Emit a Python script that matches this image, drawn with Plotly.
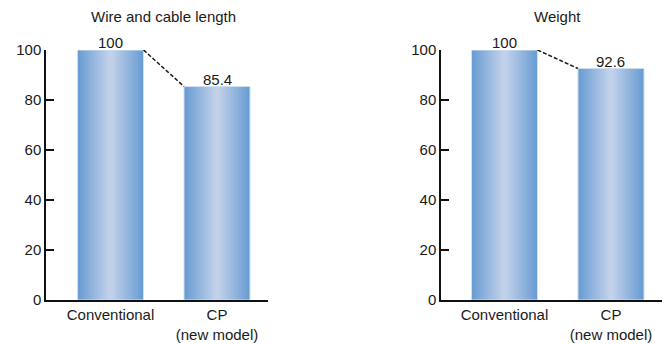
import plotly.graph_objects as go

# Chart data
categories = ["Conventional", "CP<br>(new model)"]
wire_length = [100, 85.4]
weight = [100, 92.6]
panel_titles = ["Wire and cable length", "Weight"]
y_ticks = [0, 20, 40, 60, 80, 100]

FONT = "Liberation Sans, Arial, sans-serif"
TEXT = "#1a1a1a"
EDGE_RGB = (102, 155, 210)
CENTER_RGB = (198, 211, 235)
BAR_W = 0.62
N_STRIPES = 24

positions = list(range(len(categories)))


def stripe_color(t):
    d = abs(t - 0.5) * 2
    r, g, b = (c + (e - c) * d for c, e in zip(CENTER_RGB, EDGE_RGB))
    return f"rgb({r:.0f},{g:.0f},{b:.0f})"


fig = go.Figure()


def add_panel(values, xa, ya):
    step = BAR_W / N_STRIPES
    # vertical stripes build a horizontal shading across each bar
    for i in range(N_STRIPES):
        t = (i + 0.5) / N_STRIPES
        w = step * (1.6 if i < N_STRIPES - 1 else 1.0)
        fig.add_trace(go.Bar(
            x=positions, y=values, xaxis=xa, yaxis=ya,
            width=w, offset=-BAR_W / 2 + i * step,
            marker=dict(color=stripe_color(t), line=dict(width=0)),
            showlegend=False, hoverinfo="skip",
        ))
    # light rim around each bar
    fig.add_trace(go.Bar(
        x=positions, y=values, xaxis=xa, yaxis=ya,
        width=BAR_W, offset=-BAR_W / 2,
        marker=dict(color="rgba(0,0,0,0)", line=dict(width=1, color="#cfe1f3")),
        showlegend=False, hoverinfo="skip",
    ))
    # dashed connector between bar tops
    fig.add_trace(go.Scatter(
        x=[positions[0] + BAR_W / 2, positions[1] - BAR_W / 2], y=values,
        xaxis=xa, yaxis=ya, mode="lines",
        line=dict(color=TEXT, width=1.5, dash="4px,2px"),
        showlegend=False, hoverinfo="skip",
    ))


add_panel(wire_length, "x", "y")
add_panel(weight, "x2", "y2")

ax_common = dict(
    type="linear", showgrid=False, zeroline=False, showline=True,
    linecolor="#111111", linewidth=2, ticks="", fixedrange=True,
    automargin=False, tickvals=positions, ticktext=categories,
    tickfont=dict(family=FONT, size=15, color=TEXT),
)
ay_common = dict(
    range=[0, 100], showgrid=False, zeroline=False, showline=True,
    linecolor="#111111", linewidth=1.5, ticks="inside", ticklen=8,
    tickcolor="#111111", tickwidth=1.5, tickvals=y_ticks, automargin=False,
    tickfont=dict(family=FONT, size=15, color=TEXT), fixedrange=True,
)

fig.update_layout(
    template="none",
    width=667, height=344,
    margin=dict(l=0, r=0, t=0, b=0, pad=0),
    paper_bgcolor="white", plot_bgcolor="white",
    barmode="overlay",
    xaxis=dict(domain=[46 / 667, 268 / 667], range=[-0.606, 1.479], anchor="y", **ax_common),
    yaxis=dict(domain=[44 / 344, 294 / 344], anchor="x", **ay_common),
    xaxis2=dict(domain=[441 / 667, 662 / 667], range=[-0.596, 1.479], anchor="y2", **ax_common),
    yaxis2=dict(domain=[44 / 344, 294 / 344], anchor="x2", **ay_common),
)

annotations = []
for xr, yr, vals, title in (("x", "y", wire_length, panel_titles[0]),
                            ("x2", "y2", weight, panel_titles[1])):
    annotations.append(dict(
        x=0.5, y=1, xref=xr, yref="paper", yanchor="top", text=title,
        showarrow=False, yshift=-6, font=dict(family=FONT, size=15, color=TEXT),
    ))
    for i, v in enumerate(vals):
        annotations.append(dict(
            x=positions[i], y=v, xref=xr, yref=yr, yanchor="bottom",
            text=f"{v:g}", showarrow=False, yshift=-3,
            font=dict(family=FONT, size=15, color=TEXT),
        ))
fig.update_layout(annotations=annotations)

fig.write_html("out.html")
